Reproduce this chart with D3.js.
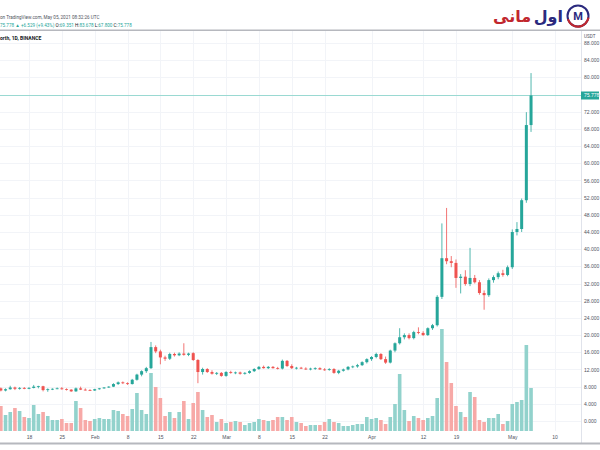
<!DOCTYPE html>
<html><head><meta charset="utf-8">
<script src="https://cdn.jsdelivr.net/npm/d3@7"></script>
<style>
html,body{margin:0;padding:0;background:#fff;}
svg{display:block;font-family:Roboto,"Noto Sans",sans-serif;}
</style></head>
<body>
<svg id="chart" width="600" height="450"></svg>
<script>
// ---- data ----
const startDate = "2021-01-12"; // first visible daily candle
const opens  = [7.6,7.1,7.4,7.8,7.5,7.7,7.5,7.7,8.0,8.1,7.2,7.4,7.5,7.6,7.4,7.3,6.9,7.6,7.3,7.2,7.1,7.4,7.6,7.8,8.0,8.6,9.0,8.8,8.6,9.6,10.8,11.6,12.3,17.2,16.2,14.8,14.5,15.6,15.3,15.7,15.4,15.8,14.2,11.4,12.1,11.4,11.0,11.2,10.5,11.4,11.2,11.3,11.0,11.2,11.6,12.1,12.6,12.3,12.6,12.3,12.2,14.0,12.8,12.3,12.4,12.2,12.0,12.2,12.3,12.0,11.9,12.1,11.2,11.7,12.0,12.6,12.7,13.0,13.7,14.4,14.9,15.6,14.4,13.6,16.4,18.1,19.5,20.0,19.3,20.7,20.5,20.0,21.6,22.3,28.9,37.9,37.2,36.8,33.3,33.6,31.9,33.3,32.3,29.8,29.3,32.8,33.5,34.4,34.0,35.8,44.0,44.7,51.4,68.9];
const highs  = [7.8,7.6,8.2,8.0,7.9,7.9,7.9,8.4,8.2,8.2,7.6,7.6,7.8,7.9,7.6,7.4,7.8,8.0,7.6,7.4,7.5,7.7,7.9,8.1,8.8,9.2,9.2,9.0,9.8,11.0,11.8,12.6,18.4,17.6,16.6,15.2,15.9,15.9,16.0,18.1,15.9,16.0,14.4,12.4,12.3,11.8,11.4,11.4,11.6,11.7,11.5,11.5,11.4,11.8,12.3,12.8,12.9,12.8,12.8,12.6,14.3,14.2,13.2,12.6,12.6,12.5,12.4,12.5,12.5,12.3,12.3,12.3,11.9,12.2,12.8,12.9,13.3,13.9,14.6,15.1,15.9,15.8,15.0,16.6,18.3,21.6,20.4,20.4,21.0,21.8,20.9,21.8,22.6,29.3,46.0,49.6,38.4,37.6,34.2,35.1,40.3,34.0,32.8,30.4,33.2,33.9,34.8,35.2,36.2,44.6,46.3,51.8,71.9,81.0];
const lows   = [6.9,6.9,7.3,7.2,7.3,7.4,7.4,7.6,7.6,6.9,6.8,7.2,7.4,7.3,7.1,6.8,6.8,7.2,7.1,7.0,7.0,7.3,7.5,7.7,7.9,8.4,8.6,8.4,8.5,9.4,10.4,11.2,12.1,15.8,13.2,14.0,14.2,15.0,15.1,15.2,15.1,14.0,8.8,10.8,11.2,10.8,10.7,10.3,10.3,11.0,10.9,10.8,10.8,11.0,11.4,11.9,12.2,12.1,12.2,12.0,12.0,12.6,12.1,12.0,12.1,11.9,11.8,11.9,11.9,11.7,11.7,11.0,10.9,11.5,11.8,12.3,12.4,12.8,13.4,14.0,14.6,14.2,13.3,13.4,16.0,17.8,19.0,19.0,19.0,20.2,19.8,19.8,21.2,22.0,28.4,36.5,35.8,31.0,29.7,31.5,31.4,32.0,29.4,25.9,28.9,32.2,33.0,33.6,33.7,35.4,43.2,44.0,50.8,67.3];
const closes = [7.1,7.4,7.8,7.5,7.7,7.5,7.7,8.0,8.1,7.2,7.4,7.5,7.6,7.4,7.3,6.9,7.6,7.3,7.2,7.1,7.4,7.6,7.8,8.0,8.6,9.0,8.8,8.6,9.6,10.8,11.6,12.3,17.2,16.2,14.8,14.5,15.6,15.3,15.7,15.4,15.7,14.2,11.4,12.1,11.4,11.0,11.2,10.5,11.4,11.2,11.3,11.0,11.2,11.6,12.1,12.6,12.3,12.6,12.3,12.2,14.0,12.8,12.3,12.4,12.2,12.0,12.2,12.3,12.0,11.9,12.1,11.2,11.7,12.0,12.6,12.7,13.0,13.7,14.4,14.9,15.6,14.4,13.6,16.4,18.1,19.5,20.0,19.3,20.7,20.5,20.0,21.6,22.3,28.9,37.9,37.2,36.8,33.3,33.6,31.9,33.3,32.3,29.8,29.3,32.8,33.5,34.4,34.0,35.8,44.0,44.7,51.4,68.9,75.778];
const volumes = [5.0,3.2,3.8,4.6,4.0,2.8,2.6,5.2,3.4,3.8,3.0,2.2,2.2,2.4,1.6,1.6,6.0,4.6,2.2,2.0,2.4,2.6,2.4,2.4,4.2,4.0,3.4,3.0,4.4,7.6,4.2,3.4,11.6,8.8,6.6,3.0,3.8,2.6,3.8,6.0,2.4,5.6,7.8,4.2,2.8,3.2,1.8,2.4,1.6,1.8,2.0,1.8,1.2,1.6,1.8,2.4,2.2,2.0,2.2,2.8,2.8,2.2,2.8,1.8,1.6,1.0,1.2,1.2,1.2,1.8,2.4,1.8,1.6,1.0,1.0,1.2,1.4,1.4,2.8,2.4,2.6,2.2,1.4,2.8,5.4,11.4,4.2,2.0,3.0,2.6,2.2,2.6,3.0,6.6,20.4,13.8,9.6,5.0,3.8,2.8,7.8,6.8,2.2,1.8,2.6,2.6,3.4,1.4,2.0,5.4,5.8,6.2,17.2,8.6];
const priceTicks = [0,4,8,12,16,20,24,28,32,36,40,44,48,52,56,60,64,68,72,76,80,84,88];
const dateTicks = ["2021-01-18","2021-01-25","2021-02-01","2021-02-08","2021-02-15","2021-02-22","2021-03-01","2021-03-08","2021-03-15","2021-03-22","2021-04-01","2021-04-12","2021-04-19","2021-05-01","2021-05-10"];
const lastPrice = 75.778;
const headerLine1 = "on TradingView.com, May 05, 2021 08:32:26 UTC";
const headerLine2 = [["75.778 ","#26a69a"],["\u25B2 +6.529 (+9.43%) ","#26a69a"],["O:","#131722"],["69.351 ","#26a69a"],["H:","#131722"],["83.678 ","#26a69a"],["L:","#131722"],["67.800 ","#26a69a"],["C:","#131722"],["75.778","#26a69a"]];
const symbolTitle = "orth, 1D, BINANCE";
const currency = "USDT";
const logoWord1 = "اول";   // blue
const logoWord2 = "مانی";  // red

// ---- build ----
const parse = d3.utcParse("%Y-%m-%d");
const days = d3.utcDay.range(parse(startDate), d3.utcDay.offset(parse(startDate), closes.length));
const data = days.map((d,i)=>({date:d,o:opens[i],h:highs[i],l:lows[i],c:closes[i],v:volumes[i]}));

const svg = d3.select("#chart");
const plotL = 0, plotR = 581, plotT = 31, plotB = 431;
const x = d3.scaleUtc().domain([parse("2021-01-18"), parse("2021-05-10")]).range([29, 554.5]);
const y = d3.scaleLinear().domain([0, 88]).range([421, 43]);
const yv = d3.scaleLinear().domain([0, 25]).range([plotB, plotB - 125]);

const up = "#26a69a", down = "#ef5350";
const upV = "#92d2cc", downV = "#f7a9a7";

svg.append("defs").append("clipPath").attr("id","plot")
  .append("rect").attr("x",plotL).attr("y",plotT).attr("width",plotR-plotL).attr("height",plotB-plotT+1);

// grid
const grid = svg.append("g").attr("clip-path","url(#plot)");
grid.selectAll("line.h").data(priceTicks).join("line")
  .attr("x1",plotL).attr("x2",plotR).attr("y1",d=>Math.round(y(d))+0.5).attr("y2",d=>Math.round(y(d))+0.5)
  .attr("stroke","#f2f4f8");
grid.selectAll("line.v").data(dateTicks.map(parse)).join("line")
  .attr("y1",plotT).attr("y2",plotB).attr("x1",d=>Math.round(x(d))+0.5).attr("x2",d=>Math.round(x(d))+0.5)
  .attr("stroke","#f2f4f8");

const g = svg.append("g").attr("clip-path","url(#plot)");
// volume
g.selectAll("rect.vol").data(data).join("rect").attr("class","vol")
  .attr("x",d=>x(d.date)-1.8).attr("width",3.6)
  .attr("y",d=>yv(d.v)).attr("height",d=>plotB-yv(d.v))
  .attr("fill",d=>d.c>=d.o?upV:downV);

// last price line
g.append("line").attr("x1",plotL).attr("x2",plotR)
  .attr("y1",Math.round(y(lastPrice))+0.5).attr("y2",Math.round(y(lastPrice))+0.5)
  .attr("stroke","#9ad9d2").attr("stroke-width",1);

// candles
const cg = g.selectAll("g.c").data(data).join("g");
cg.append("line").attr("x1",d=>x(d.date)).attr("x2",d=>x(d.date))
  .attr("y1",d=>y(d.h)).attr("y2",d=>y(d.l))
  .attr("stroke",d=>d.c>=d.o?up:down).attr("stroke-width",0.8);
cg.append("rect").attr("x",d=>x(d.date)-1.5).attr("width",3)
  .attr("y",d=>y(Math.max(d.o,d.c))).attr("height",d=>Math.max(0.8,Math.abs(y(d.o)-y(d.c))))
  .attr("fill",d=>d.c>=d.o?up:down);

// price axis
svg.append("line").attr("x1",plotR+0.5).attr("x2",plotR+0.5).attr("y1",plotT).attr("y2",443)
  .attr("stroke","#e0e3eb");
const yAxis = d3.axisRight(y).tickValues(priceTicks).tickFormat(d3.format(".3f")).tickSize(0).tickPadding(3);
const ya = svg.append("g").attr("transform",`translate(${plotR},0)`).call(yAxis);
ya.select(".domain").remove();
ya.selectAll("text").attr("fill","#50535e").style("font-size","5px");
svg.append("text").attr("x",plotR+3).attr("y",38).text(currency)
  .attr("fill","#50535e").style("font-size","4.6px");

// last price label
svg.append("rect").attr("x",plotR).attr("y",y(lastPrice)-4).attr("width",18).attr("height",8).attr("fill",up);
svg.append("text").attr("x",plotR+3).attr("y",y(lastPrice)).attr("dy","0.35em")
  .text(d3.format(".3f")(lastPrice)).attr("fill","#fff").style("font-size","5px");

// time axis
const fmt = d=> d.getUTCDate()===1 ? d3.utcFormat("%b")(d) : d3.utcFormat("%-d")(d);
const xAxis = d3.axisBottom(x).tickValues(dateTicks.map(parse)).tickFormat(fmt).tickSize(0).tickPadding(3);
const xa = svg.append("g").attr("transform",`translate(0,${plotB+1})`).call(xAxis);
xa.select(".domain").remove();
xa.selectAll("text").attr("fill","#50535e").style("font-size","5px");

// borders
svg.append("rect").attr("x",0).attr("y",29.5).attr("width",600).attr("height",1.5).attr("fill","#b6b8be");
svg.append("rect").attr("x",0).attr("y",442.5).attr("width",600).attr("height",2).attr("fill","#b6b8be");

// header texts
svg.append("text").attr("x",0).attr("y",19).text(headerLine1).attr("fill","#50535e").style("font-size","4.6px");
const t2 = svg.append("text").attr("x",0).attr("y",27).style("font-size","4.6px");
t2.selectAll("tspan").data(headerLine2).join("tspan").text(d=>d[0]).attr("fill",d=>d[1]);
svg.append("text").attr("x",0).attr("y",40).text(symbolTitle).attr("fill","#131722")
  .style("font-size","5px").style("font-weight","700");

// logo
const logo = svg.append("g");
logo.append("circle").attr("cx",578).attr("cy",16).attr("r",10.5).attr("fill","#fff")
  .attr("stroke","#2b2a7e").attr("stroke-width",2);
logo.append("path").attr("d",d3.arc()({innerRadius:9.5,outerRadius:11.7,startAngle:Math.PI*0.55,endAngle:Math.PI*1.4}))
  .attr("transform","translate(578,16)").attr("fill","#c1272d");
logo.append("text").attr("x",578).attr("y",16).attr("dy","0.36em").attr("text-anchor","middle")
  .text("M").attr("fill","#2b2a7e").style("font-size","11px").style("font-weight","700");
const w1 = logo.append("text").attr("x",563).attr("y",22).attr("text-anchor","end")
  .style("font-family","'Noto Sans','DejaVu Sans',sans-serif")
  .style("font-size","16px").style("font-weight","700").attr("fill","#2b2a7e").text(logoWord1);
const w1len = w1.node().getComputedTextLength();
logo.append("text").attr("x",563 - w1len - 2.5).attr("y",22).attr("text-anchor","end")
  .style("font-family","'Noto Sans','DejaVu Sans',sans-serif")
  .style("font-size","16px").style("font-weight","700").attr("fill","#c1272d").text(logoWord2);
</script>
</body></html>
